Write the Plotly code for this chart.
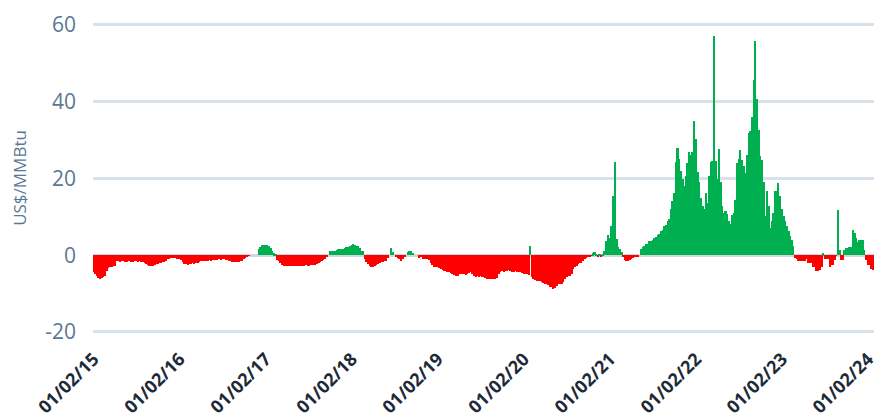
import pandas as pd
import plotly.graph_objects as go

# Weekly spread values (US$/MMBtu), one list per calendar year, weeks starting Jan 2
v2015 = [-4.4, -5.0, -5.5, -6.0, -6.2, -6.0, -5.8, -5.4, -4.2, -3.4,
         -3.2, -3.0, -2.9, -2.8, -1.6, -1.6, -1.7, -1.5, -1.6, -1.8,
         -1.7, -1.5, -1.6, -1.7, -1.8, -1.6, -1.5, -1.7, -1.6, -1.8,
         -1.9, -2.0, -2.2, -2.5, -2.7, -2.8, -2.8, -2.6, -2.4, -2.2,
         -2.0, -2.0, -1.9, -1.8, -1.4, -1.0, -0.9, -0.8, -0.8, -0.7,
         -0.8, -0.9]
v2016 = [-1.0, -1.2, -1.8, -2.3, -2.4, -2.5, -2.4, -2.2, -2.1, -2.2,
         -2.0, -2.1, -1.9, -1.6, -1.5, -1.6, -1.4, -1.5, -1.3, -1.4,
         -1.3, -1.2, -1.3, -1.2, -1.1, -1.2, -1.0, -1.1, -1.2, -1.3,
         -1.4, -1.6, -1.7, -1.8, -1.8, -1.7, -1.8, -1.6, -1.4, -1.0,
         -0.8, -0.6, -0.2, 0.0, 0.0, 0.0, 0.0, 0.0, 1.5, 2.2,
         2.6, 2.6]
v2017 = [2.6, 2.6, 2.4, 1.8, 1.0, 0.5, 0.1, -1.2, -1.6, -2.0,
         -2.5, -2.8, -2.8, -2.9, -2.8, -2.9, -2.8, -2.8, -2.9, -2.8,
         -2.7, -2.8, -2.8, -2.7, -2.6, -2.6, -2.7, -2.6, -2.5, -2.6,
         -2.5, -2.3, -2.0, -1.7, -1.5, -1.3, -1.0, -0.6, 0.0, 1.0,
         1.0, 1.1, 1.2, 1.4, 1.5, 1.5, 1.6, 1.6, 1.8, 2.0,
         2.1, 2.4]
v2018 = [2.7, 2.8, 2.6, 2.3, 2.3, 1.8, 1.2, 1.0, -1.0, -1.8,
         -2.4, -2.8, -3.0, -3.0, -2.8, -2.5, -2.2, -2.0, -1.9, -1.8,
         -1.6, -1.4, -0.8, 0.0, 1.8, 0.8, 0.0, -0.4, -0.8, -1.0,
         -1.6, -1.0, -0.6, 0.0, 0.8, 1.0, 1.2, 0.6, 0.0, 0.0,
         0.0, -0.8, -0.6, -1.0, -1.0, -1.0, -1.1, -1.2, -2.0, -2.5,
         -3.0, -3.2]
v2019 = [-3.2, -3.4, -3.6, -3.8, -4.0, -4.2, -4.4, -4.5, -4.6, -4.8,
         -5.2, -5.4, -5.3, -5.0, -4.9, -5.0, -5.0, -5.1, -4.8, -4.6,
         -4.5, -4.8, -5.4, -5.6, -5.5, -5.6, -5.5, -5.6, -5.8, -6.0,
         -6.2, -6.3, -6.2, -6.3, -6.2, -6.3, -6.0, -4.8, -4.3, -4.2,
         -4.4, -4.1, -4.0, -3.8, -4.2, -4.4, -4.3, -4.1, -4.4, -4.5,
         -4.3, -4.6]
v2020 = [-4.8, -4.9, -5.0, -5.2, 2.3, -5.8, -6.2, -6.5, -6.7, -6.8,
         -6.7, -6.9, -7.2, -7.4, -7.6, -7.9, -8.2, -8.4, -8.7, -8.5,
         -8.0, -7.6, -7.5, -7.4, -7.0, -6.2, -5.8, -5.4, -5.3, -4.8,
         -3.6, -3.1, -2.8, -2.3, -2.1, -2.0, -1.6, -1.0, -0.7, -0.5,
         -0.4, -0.2, 0.5, 0.8, 0.3, -0.3, 0.1, -0.3, 0.2, 1.0,
         3.7, 5.3]
v2021 = [4.6, 7.6, 15.5, 24.2, 4.2, 2.0, 1.5, 0.7, -0.4, -1.2,
         -1.4, -1.4, -1.2, -1.0, -0.8, -0.6, -0.5, -0.3, 0.0, 1.6,
         2.2, 2.4, 2.9, 2.9, 3.7, 3.7, 3.9, 4.6, 4.8, 5.2,
         5.5, 6.3, 6.5, 7.6, 7.8, 9.0, 9.4, 12.0, 14.0, 16.3,
         24.2, 28.0, 25.0, 22.0, 19.8, 18.1, 20.7, 24.0, 26.8, 26.0,
         27.0, 35.0]
v2022 = [30.3, 21.6, 19.0, 15.0, 12.9, 12.0, 16.3, 13.6, 20.6, 24.2,
         24.5, 57.0, 24.6, 19.8, 27.6, 19.0, 12.9, 11.1, 11.5, 10.8,
         9.0, 8.0, 10.5, 11.1, 14.3, 24.0, 25.0, 27.4, 24.9, 23.1,
         21.3, 26.0, 31.8, 32.3, 36.1, 45.7, 55.7, 40.6, 32.7, 25.8,
         24.9, 19.0, 10.3, 16.6, 12.7, 7.1, 9.0, 11.0, 16.6, 16.6,
         18.8, 15.3]
v2023 = [12.0, 10.2, 8.8, 7.5, 6.2, 4.9, 4.0, 2.5, -0.7, -1.0,
         -1.4, -1.4, -1.6, -1.6, -1.6, -1.0, -2.1, -2.1, -2.1, -3.1,
         -3.1, -4.0, -4.0, -3.8, -3.1, 0.5, -1.0, -1.0, -1.0, -3.1,
         -2.5, -2.5, -1.2, -0.2, 11.8, 1.4, -1.2, -1.2, 1.4, 1.8,
         1.8, 2.2, 2.2, 6.6, 5.7, 4.5, 3.5, 4.0, 4.0, 4.0,
         1.4, -1.2]
v2024 = [-2.5, -2.5, -3.5, -3.9]

years = [2015, 2016, 2017, 2018, 2019, 2020, 2021, 2022, 2023, 2024]
series = [v2015, v2016, v2017, v2018, v2019, v2020, v2021, v2022, v2023, v2024]

tick_labels = ["01/02/15", "01/02/16", "01/02/17", "01/02/18", "01/02/19",
               "01/02/20", "01/02/21", "01/02/22", "01/02/23", "01/02/24"]
tick_dates = ["2015-01-02", "2016-01-02", "2017-01-02", "2018-01-02", "2019-01-02",
              "2020-01-02", "2021-01-02", "2022-01-02", "2023-01-02", "2024-01-02"]
y_ticks = [-20, 0, 20, 40, 60]
y_labels = ["-20", "0", "20", "40", "60"]

dates = []
values = []
for yr, vals in zip(years, series):
    d = pd.date_range(f"{yr}-01-02", periods=len(vals), freq="7D")
    dates.extend(d)
    values.extend(vals)

colors = ["#00B050" if v >= 0 else "#FF0000" for v in values]

fig = go.Figure(go.Bar(
    x=dates, y=values,
    marker=dict(color=colors, line=dict(width=0)),
    width=7 * 24 * 3600 * 1000,
    hoverinfo="x+y",
))

label_col = "#5A7896"
fig.update_layout(
    width=874, height=417,
    margin=dict(l=93, r=0, t=21, b=82),
    paper_bgcolor="white", plot_bgcolor="white",
    bargap=0, showlegend=False,
    font=dict(family="Open Sans, sans-serif"),
)
fig.update_xaxes(
    range=["2014-12-30", "2024-01-27"],
    tickvals=tick_dates, ticktext=tick_labels,
    tickangle=-45, automargin=False, ticklabeloverflow="allow",
    tickfont=dict(size=18, color="#1E2A38", family="Open Sans, sans-serif", weight="bold"),
    ticklabelstandoff=9,
    showgrid=False, showline=False, ticks="",
)
fig.update_yaxes(
    range=[-20.8, 61], automargin=False,
    tickvals=y_ticks, ticktext=y_labels,
    tickfont=dict(size=21, color=label_col),
    gridcolor="#D9E1EA", gridwidth=2.5,
    zeroline=True, zerolinecolor="#CFD7DF", zerolinewidth=3,
    ticklabelstandoff=16,
    title=dict(text="US$/MMBtu", font=dict(size=17, color=label_col), standoff=14),
)

fig.write_html("out.html", config={"displayModeBar": False},
               post_script="document.body.style.margin='0';document.body.style.overflow='hidden';")
